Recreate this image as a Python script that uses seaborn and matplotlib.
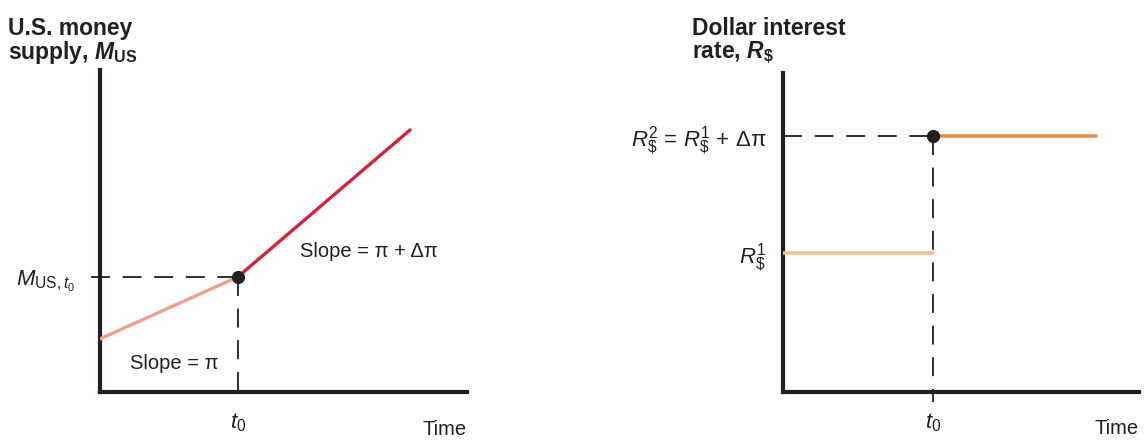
import numpy as np
import pandas as pd
import matplotlib
matplotlib.use("Agg")
import matplotlib.pyplot as plt
import seaborn as sns

# ---- data -------------------------------------------------------------
# Left panel: U.S. money supply path, growth rate rises at t0
money_time_before = [0.0, 3.75]
money_before = [1.65, 3.57]
money_time_after = [3.75, 8.45]
money_after = [3.57, 8.14]
t0_money = 3.75
m_t0 = 3.57

# Right panel: dollar interest rate jumps at t0
rate_time_before = [0.0, 4.21]
rate_before = [4.36, 4.36]
rate_time_after = [4.21, 8.79]
rate_after = [8.02, 8.02]
t0_rate = 4.21
r1 = 4.36
r2 = 8.02

# ---- style ------------------------------------------------------------
sns.set_theme(style="white")
plt.rcParams["font.family"] = ["Liberation Sans", "DejaVu Sans"]
plt.rcParams["mathtext.fontset"] = "custom"
plt.rcParams["mathtext.rm"] = "Liberation Sans"
plt.rcParams["mathtext.it"] = "Liberation Sans:italic"
plt.rcParams["mathtext.bf"] = "Liberation Sans:bold:italic"
plt.rcParams["mathtext.sf"] = "Liberation Sans:bold"

TXT = "#231f20"
RED = "#d2233c"
PINK = "#eda08e"
ORANGE = "#e3923f"
LIGHT_ORANGE = "#f4c290"
FS = 14.5        # annotation text
FS_TICK = 16     # axis symbols
FS_TITLE = 16.5  # axis titles

fig = plt.figure(figsize=(11.45, 4.41), dpi=100)
ax1 = fig.add_axes([100 / 1145, 49 / 441, 367 / 1145, 322 / 441])
ax2 = fig.add_axes([783 / 1145, 49 / 441, 356 / 1145, 319 / 441])

for ax in (ax1, ax2):
    ax.set_xlim(0, 10)
    ax.set_ylim(0, 10)
    for side in ("top", "right"):
        ax.spines[side].set_visible(False)
    for side in ("left", "bottom"):
        ax.spines[side].set_color(TXT)
        ax.spines[side].set_linewidth(3)
    ax.set_facecolor("none")
    ax.tick_params(colors=TXT, labelsize=FS_TICK)

dash = dict(color=TXT, lw=1.3, dashes=(10.5, 7), clip_on=False, zorder=2)

# ---- left panel -------------------------------------------------------
df_mb = pd.DataFrame({"t": money_time_before, "m": money_before})
df_ma = pd.DataFrame({"t": money_time_after, "m": money_after})
sns.lineplot(data=df_mb, x="t", y="m", ax=ax1, color=PINK, lw=2.4, zorder=3)
sns.lineplot(data=df_ma, x="t", y="m", ax=ax1, color=RED, lw=2.4, zorder=3)
ax1.plot([-0.25, t0_money], [m_t0, m_t0], **dash)
ax1.plot([t0_money, t0_money], [m_t0, -0.3], **dash)
ax1.plot([t0_money], [m_t0], "o", color=TXT, ms=8.5, zorder=4)

ax1.set_xticks([t0_money])
ax1.set_xticklabels([r"$t_0$"])
ax1.set_yticks([m_t0])
ax1.set_yticklabels([r"$M_{\mathrm{US},t_0}$"])
ax1.tick_params(axis="y", length=0, pad=18)
ax1.tick_params(axis="x", length=0, pad=14)
ax1.set_xlabel("")
ax1.set_ylabel("")

ax1.text(0.82, 0.9, "Slope = π", fontsize=FS, color=TXT,
         va="center", ha="left")
ax1.text(5.45, 4.35, "Slope = π + Δπ", fontsize=FS, color=TXT,
         va="center", ha="left")
ax1.text(1.0, -0.115, "Time", transform=ax1.transAxes, fontsize=FS,
         color=TXT, ha="right", va="center")

fig.text(8 / 1145, 1 - 17 / 441, "U.S. money\nsupply, " + r"$\mathbf{M}_{\mathsf{US}}$",
         fontsize=FS_TITLE, fontweight="bold", color=TXT, va="top", ha="left",
         linespacing=0.95)

# ---- right panel ------------------------------------------------------
df_rb = pd.DataFrame({"t": rate_time_before, "r": rate_before})
df_ra = pd.DataFrame({"t": rate_time_after, "r": rate_after})
sns.lineplot(data=df_rb, x="t", y="r", ax=ax2, color=LIGHT_ORANGE, lw=2.6, zorder=3)
sns.lineplot(data=df_ra, x="t", y="r", ax=ax2, color=ORANGE, lw=2.6, zorder=3)
ax2.plot([0, t0_rate], [r2, r2], **dash)
ax2.plot([t0_rate, t0_rate], [r2, -0.3], **dash)
ax2.plot([t0_rate], [r2], "o", color=TXT, ms=8.5, zorder=4)

ax2.set_xticks([t0_rate])
ax2.set_xticklabels([r"$t_0$"])
ax2.set_yticks([r1, r2])
ax2.set_yticklabels([r"$R^1_{\$}$", r"$R^2_{\$}$ = $R^1_{\$}$ + Δπ"])
ax2.tick_params(axis="y", length=7, width=2.5, direction="out", pad=5)
ax2.tick_params(axis="x", length=0, pad=14)
ax2.set_xlabel("")
ax2.set_ylabel("")
ax2.text(1.0, -0.115, "Time", transform=ax2.transAxes, fontsize=FS,
         color=TXT, ha="right", va="center")

fig.text(692 / 1145, 1 - 17 / 441, "Dollar interest\nrate, " + r"$\mathbf{R}_{\mathsf{\$}}$",
         fontsize=FS_TITLE, fontweight="bold", color=TXT, va="top", ha="left",
         linespacing=0.95)

fig.savefig("out.png", dpi=100, facecolor="white")
